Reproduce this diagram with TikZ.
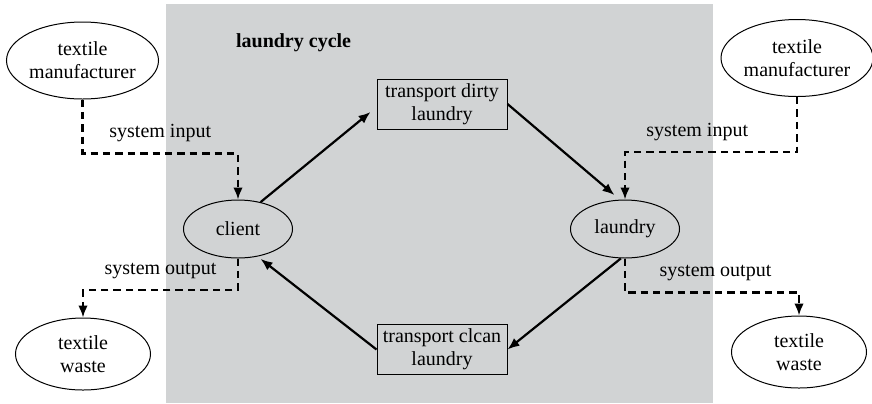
\documentclass[tikz,border=0pt]{standalone}
\usepackage{fontspec}
\setmainfont{Liberation Serif}
\usetikzlibrary{arrows.meta,shapes.geometric}
\definecolor{cyclegray}{RGB}{209,211,212}

\begin{document}
\begin{tikzpicture}[x=0.5pt,y=-0.5pt,
  every node/.style={font=\fontsize{10}{11.4}\selectfont},
  ext/.style={ellipse,draw=black,line width=0.5pt,fill=white,align=center,inner sep=0pt,minimum width=76pt,minimum height=38.5pt},
  wst/.style={ext,minimum width=67.5pt,minimum height=36pt},
  act/.style={ellipse,draw=black,line width=0.5pt,inner sep=0pt,minimum width=54.5pt,minimum height=29pt},
  trp/.style={draw=black,line width=0.5pt,align=center,inner sep=0pt,minimum width=65pt,minimum height=25pt},
  ar/.style={-{Latex[length=6pt,width=4.8pt]},line width=1.1pt},
  sys/.style={-{Latex[length=6pt,width=4.8pt]},line width=1.1pt,dash pattern=on 3.7pt off 2.5pt},
  lbl/.style={inner sep=1pt,above=4.2pt}]
\useasboundingbox (0,0) rectangle (872,403);
\fill[cyclegray] (166,4) rectangle (713,403);
\node[anchor=west,font=\fontsize{10}{11.4}\selectfont\bfseries] (title) at (229,43) {laundry cycle};
\node[ext] (tml) at (82.5,60.5) {textile\\manufacturer};
\node[ext] (tmr) at (797,58) {textile\\manufacturer};
\node[wst] (wl) at (83,354) {textile\\waste};
\node[wst] (wr) at (799,352) {textile\\waste};
\node[act] (client) at (238,229) {client};
\node[act] (laundry) at (625,229) {laundry};
\node[trp] (dirty) at (442,104) {transport dirty\\laundry};
\node[trp] (clean) at (442,349.5) {transport clcan\\laundry};
\draw[ar] (client.50) -- ([xshift=-3pt,yshift=-4pt]dirty.west);
\draw[ar] (dirty.east) -- ([yshift=2.5pt]laundry.110);
\draw[ar] (laundry.262) -- (clean.east);
\draw[ar] (clean.west) -- ([yshift=-1.5pt]client.310);
\draw[sys] (tml.south) -- ++(0,54) -| (client.north) node[lbl,pos=0.25] {system input};
\draw[sys] (tmr.south) -- ++(0,55) -| (laundry.north) node[lbl,pos=0.29] {system input};
\draw[sys] (client.south) -- ++(0,31.5) -| (wl.north) node[lbl,pos=0.25] {system output};
\draw[sys] (laundry.south) -- ++(0,34) -| (wr.north) node[lbl,pos=0.26] {system output};
\end{tikzpicture}
\end{document}
